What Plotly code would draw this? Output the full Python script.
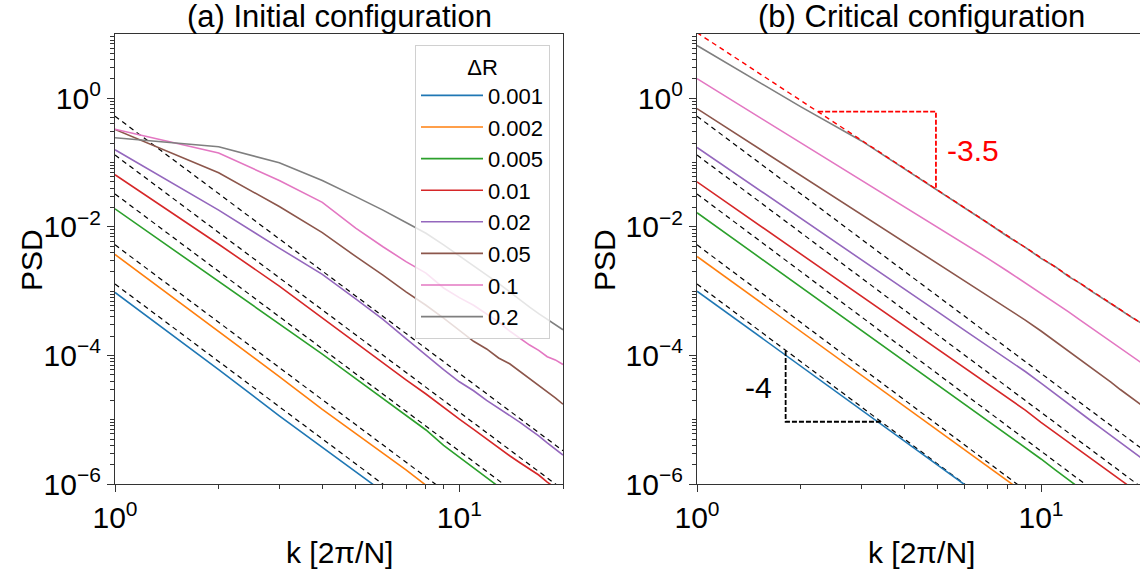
import math
import plotly.graph_objects as go

# ---------------- data ----------------
k = list(range(1, 21))
delta_r = ["0.001", "0.002", "0.005", "0.01", "0.02", "0.05", "0.1", "0.2"]
colors = ["#1f77b4", "#ff7f0e", "#2ca02c", "#d62728", "#9467bd", "#8c564b", "#e377c2", "#7f7f7f"]

# (a) Initial configuration : PSD at k = 1, 2, 3, ...
init_001 = [9.55e-4, 6.03e-5, 1.15e-5, 3.72e-6, 1.55e-6, 7.59e-7]
init_002 = [3.72e-3, 2.40e-4, 4.68e-5, 1.45e-5, 6.17e-6, 3.02e-6, 1.66e-6, 9.55e-7]
init_005 = [1.91e-2, 1.41e-3, 3.16e-4, 1.05e-4, 4.37e-5, 2.14e-5, 1.17e-5, 6.92e-6, 3.98e-6,
            2.63e-6, 1.82e-6, 1.29e-6, 9.12e-7]
init_01 = [6.46e-2, 5.37e-3, 1.20e-3, 3.80e-4, 1.58e-4, 7.59e-5, 4.17e-5, 2.51e-5, 1.55e-5,
           1.02e-5, 7.08e-6, 5.01e-6, 3.63e-6, 2.75e-6, 2.14e-6, 1.70e-6, 1.38e-6, 1.07e-6, 8.71e-7]
init_02 = [0.158, 1.82e-2, 4.68e-3, 1.82e-3, 7.59e-4, 3.63e-4, 1.82e-4, 1.00e-4, 6.03e-5, 3.89e-5,
           2.82e-5, 2.00e-5, 1.51e-5, 1.17e-5, 9.12e-6, 7.08e-6, 5.62e-6, 4.37e-6, 3.47e-6, 2.82e-6]
init_05 = [0.327, 6.95e-2, 2.07e-2, 8.13e-3, 3.47e-3, 1.78e-3, 9.77e-4, 6.03e-4, 3.80e-4, 2.45e-4,
           1.66e-4, 1.26e-4, 9.12e-5, 7.41e-5, 5.62e-5, 4.37e-5, 3.47e-5, 2.75e-5, 2.19e-5, 1.74e-5]
init_1 = [0.330, 0.141, 5.25e-2, 2.40e-2, 9.55e-3, 4.90e-3, 2.88e-3, 1.91e-3, 1.12e-3, 7.94e-4,
          6.03e-4, 4.37e-4, 3.31e-4, 2.40e-4, 1.82e-4, 1.45e-4, 1.20e-4, 9.55e-5, 8.51e-5, 7.24e-5]
init_2 = [0.243, 0.176, 9.93e-2, 5.25e-2, 2.95e-2, 1.82e-2, 1.17e-2, 7.94e-3, 5.25e-3, 3.55e-3,
          2.51e-3, 1.78e-3, 1.32e-3, 9.77e-4, 7.24e-4, 5.62e-4, 4.47e-4, 3.63e-4, 3.02e-4, 2.51e-4]

# (b) Critical configuration
crit_001 = [1.00e-3, 6.92e-5, 1.45e-5, 4.68e-6, 2.00e-6, 9.77e-7]
crit_002 = [3.47e-3, 2.40e-4, 5.01e-5, 1.62e-5, 6.92e-6, 3.39e-6, 1.86e-6, 1.12e-6, 7.08e-7]
crit_005 = [1.66e-2, 1.17e-3, 2.45e-4, 8.32e-5, 3.55e-5, 1.78e-5, 9.77e-6, 5.89e-6, 3.72e-6,
            2.45e-6, 1.66e-6, 1.17e-6, 8.51e-7]
crit_01 = [5.01e-2, 3.80e-3, 8.32e-4, 2.88e-4, 1.26e-4, 6.46e-5, 3.63e-5, 2.19e-5, 1.41e-5,
           9.12e-6, 6.31e-6, 4.47e-6, 3.31e-6, 2.51e-6, 1.91e-6, 1.48e-6, 1.17e-6, 9.33e-7]
crit_02 = [0.172, 1.38e-2, 3.09e-3, 1.10e-3, 4.79e-4, 2.45e-4, 1.41e-4, 8.71e-5, 5.62e-5, 3.72e-5,
           2.51e-5, 1.78e-5, 1.29e-5, 9.55e-6, 7.24e-6, 5.62e-6, 4.37e-6, 3.47e-6, 2.82e-6, 2.34e-6]
crit_05 = [0.692, 6.31e-2, 1.58e-2, 5.75e-3, 2.69e-3, 1.45e-3, 8.51e-4, 5.37e-4, 3.55e-4, 2.40e-4,
           1.66e-4, 1.17e-4, 8.71e-5, 6.46e-5, 4.90e-5, 3.80e-5, 2.95e-5, 2.34e-5, 1.91e-5, 1.55e-5]
crit_1 = [2.02, 0.204, 5.37e-2, 2.09e-2, 1.00e-2, 5.50e-3, 3.24e-3, 2.04e-3, 1.35e-3, 9.33e-4,
          6.61e-4, 4.79e-4, 3.55e-4, 2.69e-4, 2.09e-4, 1.62e-4, 1.29e-4, 1.05e-4, 8.51e-5, 7.08e-5]
crit_2 = [6.61, 0.741, 0.219, 8.13e-2, 3.72e-2, 1.95e-2, 1.15e-2, 7.08e-3, 4.79e-3, 3.24e-3,
          2.40e-3, 1.70e-3, 1.32e-3, 1.00e-3, 7.94e-4, 6.31e-4, 5.13e-4, 4.17e-4, 3.47e-4, 2.95e-4]

init_series = [init_001, init_002, init_005, init_01, init_02, init_05, init_1, init_2]
crit_series = [crit_001, crit_002, crit_005, crit_01, crit_02, crit_05, crit_1, crit_2]

# k^-4 guide lines (black dashed): values at k = 1 and k = 20
guide_k = [1, 20]
guide_start = [0.526, 0.131, 3.25e-2, 5.25e-3, 1.29e-3]
guide_end = [3.29e-6, 8.17e-7, 2.03e-7, 3.28e-8, 8.05e-9]
# k^-3.5 guide (red dashed) in panel (b)
red_guide = [10.5, 2.93e-4]

# slope triangles
red_tri_k = [2.25, 4.95, 4.95]
red_tri_psd = [0.62, 0.62, 0.039]
blk_tri_k = [1.81, 1.81, 3.44]
blk_tri_psd = [1.17e-4, 9.3e-6, 9.3e-6]

# ---------------- figure ----------------
W, H = 1140, 571
FONT = "Liberation Sans, Arial, Helvetica, sans-serif"

fig = go.Figure()

for panel, series, xa, ya in [(0, init_series, "x", "y"), (1, crit_series, "x2", "y2")]:
    for g0, g1 in zip(guide_start, guide_end):
        fig.add_trace(go.Scatter(x=guide_k, y=[g0, g1], mode="lines", xaxis=xa, yaxis=ya,
                                 line=dict(color="black", width=1.2, dash="5px,4px"),
                                 showlegend=False, hoverinfo="skip"))
    for name, col, ys in zip(delta_r, colors, series):
        fig.add_trace(go.Scatter(x=k[:len(ys)], y=ys, mode="lines", name=name,
                                 xaxis=xa, yaxis=ya, line=dict(color=col, width=1.6),
                                 showlegend=(panel == 0)))

fig.add_trace(go.Scatter(x=guide_k, y=red_guide, mode="lines", xaxis="x2", yaxis="y2",
                         line=dict(color="#ff0000", width=1.4, dash="5px,4px"),
                         showlegend=False, hoverinfo="skip"))
fig.add_trace(go.Scatter(x=red_tri_k, y=red_tri_psd, mode="lines", xaxis="x2", yaxis="y2",
                         line=dict(color="#ff0000", width=1.8, dash="5px,2px"),
                         showlegend=False, hoverinfo="skip"))
fig.add_trace(go.Scatter(x=blk_tri_k, y=blk_tri_psd, mode="lines", xaxis="x2", yaxis="y2",
                         line=dict(color="black", width=1.8, dash="5px,2px"),
                         showlegend=False, hoverinfo="skip"))

x_minor = [2, 3, 4, 5, 6, 7, 8, 9, 20]
y_minor = []
for e in range(-6, 1):
    for m in range(1, 10):
        v = m * 10.0 ** e
        if m == 1 and e % 2 == 0:
            continue
        y_minor.append(v)

axis_common = dict(type="log", showgrid=False, zeroline=False, showline=True, automargin=False,
                   linecolor="#333333", linewidth=1.2, ticks="outside", ticklen=7,
                   tickwidth=1.2, tickcolor="#333333",
                   tickfont=dict(family=FONT, size=30, color="black"))

xt = dict(tickmode="array", tickvals=[1, 10], ticktext=["10<sup>0</sup>", "10<sup>1</sup>"],
          minor=dict(ticks="outside", ticklen=4, tickwidth=1, tickcolor="#333333",
                     tickmode="array", tickvals=x_minor))
yt = dict(tickmode="array", tickvals=[1, 1e-2, 1e-4, 1e-6],
          ticktext=["10<sup>0</sup>", "10<sup>\u22122</sup>", "10<sup>\u22124</sup>", "10<sup>\u22126</sup>"],
          minor=dict(ticks="outside", ticklen=4, tickwidth=1, tickcolor="#333333",
                     tickmode="array", tickvals=y_minor))

x_right_end = (W - 697) / 344.0

fig.update_layout(
    template="plotly_white",
    width=W, height=H, autosize=False,
    margin=dict(l=0, r=0, t=0, b=0, pad=0, autoexpand=False),
    paper_bgcolor="white", plot_bgcolor="white",
    font=dict(family=FONT, color="black"),
    xaxis=dict(domain=[115 / W, 563 / W], range=[0, math.log10(20)], anchor="y", mirror=True,
               **axis_common, **xt),
    yaxis=dict(domain=[87 / H, 537 / H], range=[-6, 1], anchor="x", mirror=True,
               **axis_common, **yt),
    xaxis2=dict(domain=[697 / W, 1.0], range=[0, x_right_end], anchor="y2", mirror=True,
                **axis_common, **xt),
    yaxis2=dict(domain=[87 / H, 537 / H], range=[-6, 1], anchor="x2", mirror=False,
                **axis_common, **yt),
    legend=dict(x=415 / W, y=1 - 45 / H, xanchor="left", yanchor="top",
                bgcolor="rgba(255,255,255,0.8)", bordercolor="#d0d0d0", borderwidth=1,
                tracegroupgap=0, itemwidth=62,
                font=dict(family=FONT, size=22, color="black"),
                title=dict(text="\u0394R", side="top center",
                           font=dict(family=FONT, size=22, color="black"))),
    showlegend=True,
)

annotations = [
    dict(text="(a) Initial configuration", x=339 / W, y=1 - 17 / H, xref="paper", yref="paper",
         showarrow=False, font=dict(size=31), xanchor="center", yanchor="middle"),
    dict(text="(b) Critical configuration", x=921 / W, y=1 - 17 / H, xref="paper", yref="paper",
         showarrow=False, font=dict(size=31), xanchor="center", yanchor="middle"),
    dict(text="PSD", x=32 / W, y=1 - 260 / H, xref="paper", yref="paper", textangle=-90,
         showarrow=False, font=dict(size=30), xanchor="center", yanchor="middle"),
    dict(text="PSD", x=605 / W, y=1 - 260 / H, xref="paper", yref="paper", textangle=-90,
         showarrow=False, font=dict(size=30), xanchor="center", yanchor="middle"),
    dict(text="k [2\u03c0/N]", x=339 / W, y=1 - 552 / H, xref="paper", yref="paper",
         showarrow=False, font=dict(size=30), xanchor="center", yanchor="middle"),
    dict(text="k [2\u03c0/N]", x=921 / W, y=1 - 552 / H, xref="paper", yref="paper",
         showarrow=False, font=dict(size=30), xanchor="center", yanchor="middle"),
    dict(text="-3.5", x=math.log10(6.34), y=-0.82, xref="x2", yref="y2",
         showarrow=False, font=dict(size=30, color="#ff0000"), xanchor="center", yanchor="middle"),
    dict(text="-4", x=math.log10(1.505), y=-4.50, xref="x2", yref="y2",
         showarrow=False, font=dict(size=30, color="black"), xanchor="center", yanchor="middle"),
]
fig.update_layout(annotations=annotations)

fig.write_html("out.html",
               config={"displayModeBar": False},
               post_script="document.body.style.margin='0';document.body.style.overflow='hidden';")
